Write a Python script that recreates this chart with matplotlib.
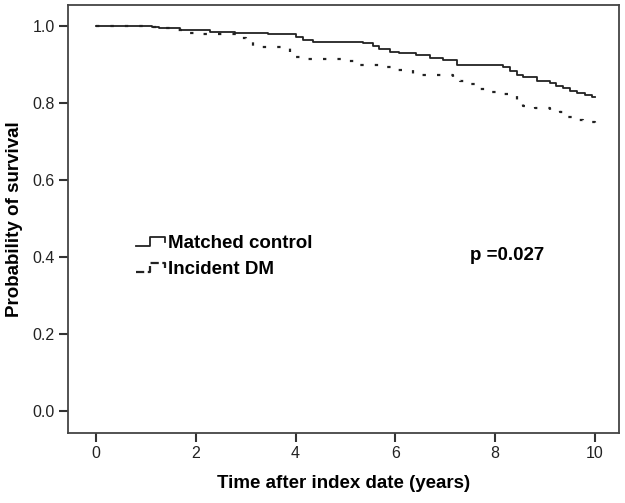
import numpy as np
import matplotlib
matplotlib.use("Agg")
import matplotlib.pyplot as plt
from matplotlib.lines import Line2D
from matplotlib.legend_handler import HandlerBase

plt.rcParams['font.family'] = ['Liberation Sans', 'DejaVu Sans']

# Kaplan-Meier step data
ctrl_time = [0, 1.13, 1.27, 1.68, 2.28, 2.78, 3.44, 4.0, 4.15, 4.34, 5.35, 5.55,
             5.68, 5.9, 6.08, 6.42, 6.7, 6.95, 7.23, 8.15, 8.3, 8.43, 8.55, 8.83,
             9.09, 9.22, 9.35, 9.5, 9.63, 9.8, 9.93, 10.0]
ctrl_surv = [1.0, 0.998, 0.994, 0.990, 0.985, 0.982, 0.979, 0.972, 0.965, 0.958, 0.956, 0.949,
             0.940, 0.934, 0.930, 0.925, 0.918, 0.912, 0.900, 0.895, 0.884, 0.874, 0.867, 0.857,
             0.852, 0.845, 0.838, 0.832, 0.826, 0.821, 0.816, 0.816]

dm_time = [0, 1.13, 1.27, 1.5, 1.88, 2.08, 2.88, 3.0, 3.14, 3.88, 4.01, 4.2, 5.02,
           5.22, 5.82, 6.0, 6.35, 7.15, 7.29, 7.42, 7.62, 7.9, 8.15, 8.29, 8.43,
           8.55, 8.8, 9.1, 9.29, 9.42, 9.59, 9.75, 10.0]
dm_surv = [1.0, 0.998, 0.994, 0.990, 0.983, 0.979, 0.969, 0.960, 0.947, 0.934, 0.921, 0.915, 0.909,
           0.899, 0.895, 0.887, 0.874, 0.867, 0.857, 0.849, 0.836, 0.829, 0.823, 0.818, 0.806,
           0.792, 0.787, 0.783, 0.776, 0.764, 0.755, 0.750, 0.748]

x_ticks = [0, 2, 4, 6, 8, 10]
y_ticks = [0.0, 0.2, 0.4, 0.6, 0.8, 1.0]

dash_style = (0, (1.5, 5))


# step-shaped legend glyph like SPSS
class StepHandler(HandlerBase):
    def create_artists(self, legend, orig_handle, xdescent, ydescent,
                       width, height, fontsize, trans):
        x0 = -xdescent
        y0 = -ydescent
        xs = [x0, x0 + 0.5 * width, x0 + 0.5 * width, x0 + width, x0 + width]
        ys = [y0 + 0.15 * height, y0 + 0.15 * height, y0 + 0.85 * height,
              y0 + 0.85 * height, y0 + 0.45 * height]
        line = Line2D(xs, ys, color=orig_handle.get_color(),
                      linestyle=orig_handle.get_linestyle(),
                      linewidth=orig_handle.get_linewidth())
        line.set_transform(trans)
        return [line]


fig = plt.figure(figsize=(6.25, 5.03), dpi=100)
ax = fig.add_axes([0.1088, 0.1392, 0.8816, 0.851])

l1, = ax.step(ctrl_time, ctrl_surv, where='post', color='#222222', lw=1.3,
              label='Matched control')
l2, = ax.step(dm_time, dm_surv, where='post', color='#222222', lw=1.6,
              linestyle=dash_style, label='Incident DM')

ax.set_xlim(-0.56, 10.48)
ax.set_ylim(-0.057, 1.055)
ax.set_xticks(x_ticks)
ax.set_xticklabels([str(t) for t in x_ticks])
ax.set_yticks(y_ticks)
ax.set_yticklabels(['%.1f' % t for t in y_ticks])
ax.tick_params(direction='out', length=6.5, width=1.5, labelsize=11.5,
               color='#333333', labelcolor='#222222', pad=3)
for s in ax.spines.values():
    s.set_color('#444444')
    s.set_linewidth(1.3)

ax.set_xlabel('Time after index date (years)', fontsize=13.5, fontweight='bold',
              va='center')
ax.set_ylabel('Probability of survival', fontsize=13.5, fontweight='bold',
              va='center')
ax.xaxis.set_label_coords(0.5, -0.117)
ax.yaxis.set_label_coords(-0.098, 0.5)

leg = ax.legend(handles=[l1, l2], handler_map={Line2D: StepHandler()},
                loc='upper left', bbox_to_anchor=(0.092, 0.503), frameon=False,
                prop={'size': 13.5, 'weight': 'bold'}, handlelength=1.55,
                handletextpad=0.2, labelspacing=0.5)

ax.text(7.5, 0.405, 'p =0.027', fontsize=13.5, fontweight='bold', va='center')

fig.savefig('out.png', dpi=100)
